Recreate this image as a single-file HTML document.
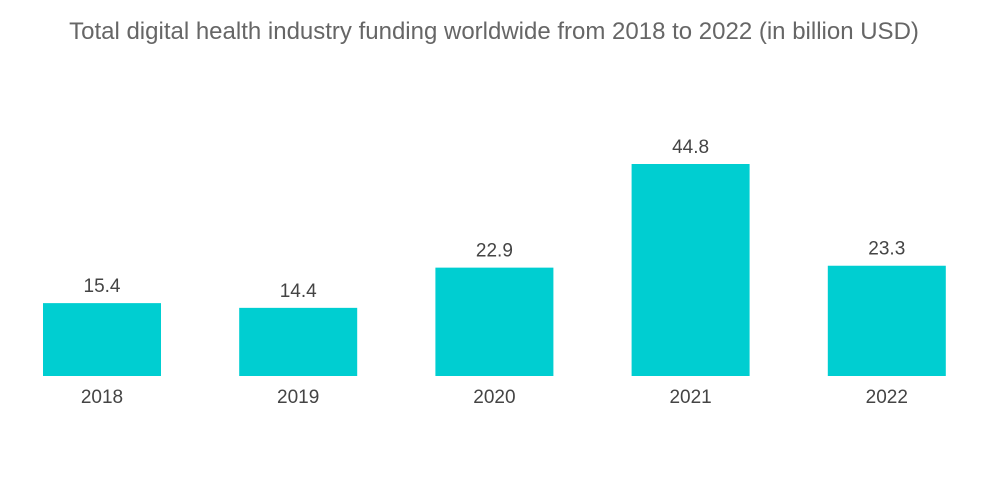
<!DOCTYPE html>
<html>
<head>
<meta charset="utf-8">
<style>
  html, body { margin: 0; padding: 0; background: #fff; }
  svg { display: block; font-family: "Liberation Sans", sans-serif; }
</style>
</head>
<body>
<svg id="chart" width="1000" height="504" viewBox="0 0 1000 504" xmlns="http://www.w3.org/2000/svg">
  <text x="494" y="39" text-anchor="middle" font-size="24" fill="#666">Total digital health industry funding worldwide from 2018 to 2022 (in billion USD)</text>
  <g id="bars"></g>
</svg>
<script>
const categories = ["2018", "2019", "2020", "2021", "2022"];
const values = [15.4, 14.4, 22.9, 44.8, 23.3];
const valueLabels = ["15.4", "14.4", "22.9", "44.8", "23.3"];

const baseline = 376;
const pxPerUnit = 212 / 44.8;
const firstX = 43, step = 196.2, barW = 118;
function xScale(i) { return firstX + i * step; }
function yScale(v) { return baseline - v * pxPerUnit; }

const ns = "http://www.w3.org/2000/svg";
const g = document.getElementById("bars");
categories.forEach((c, i) => {
  const x = xScale(i), y = yScale(values[i]);
  const r = document.createElementNS(ns, "rect");
  
  
  r.setAttribute("x", x); r.setAttribute("y", y);
  r.setAttribute("width", barW); r.setAttribute("height", baseline - y);
  r.setAttribute("fill", "#00ced1");
  g.appendChild(r);

  const t = document.createElementNS(ns, "text");
  
  
  t.setAttribute("x", x + barW / 2); t.setAttribute("y", y - 11);
  t.setAttribute("text-anchor", "middle"); t.setAttribute("font-size", "19");
  t.setAttribute("fill", "#444");
  t.textContent = valueLabels[i];
  g.appendChild(t);

  const l = document.createElementNS(ns, "text");
  
  
  l.setAttribute("x", x + barW / 2); l.setAttribute("y", 403);
  l.setAttribute("text-anchor", "middle"); l.setAttribute("font-size", "19");
  l.setAttribute("fill", "#444");
  l.textContent = c;
  g.appendChild(l);
});
</script>
</body>
</html>
